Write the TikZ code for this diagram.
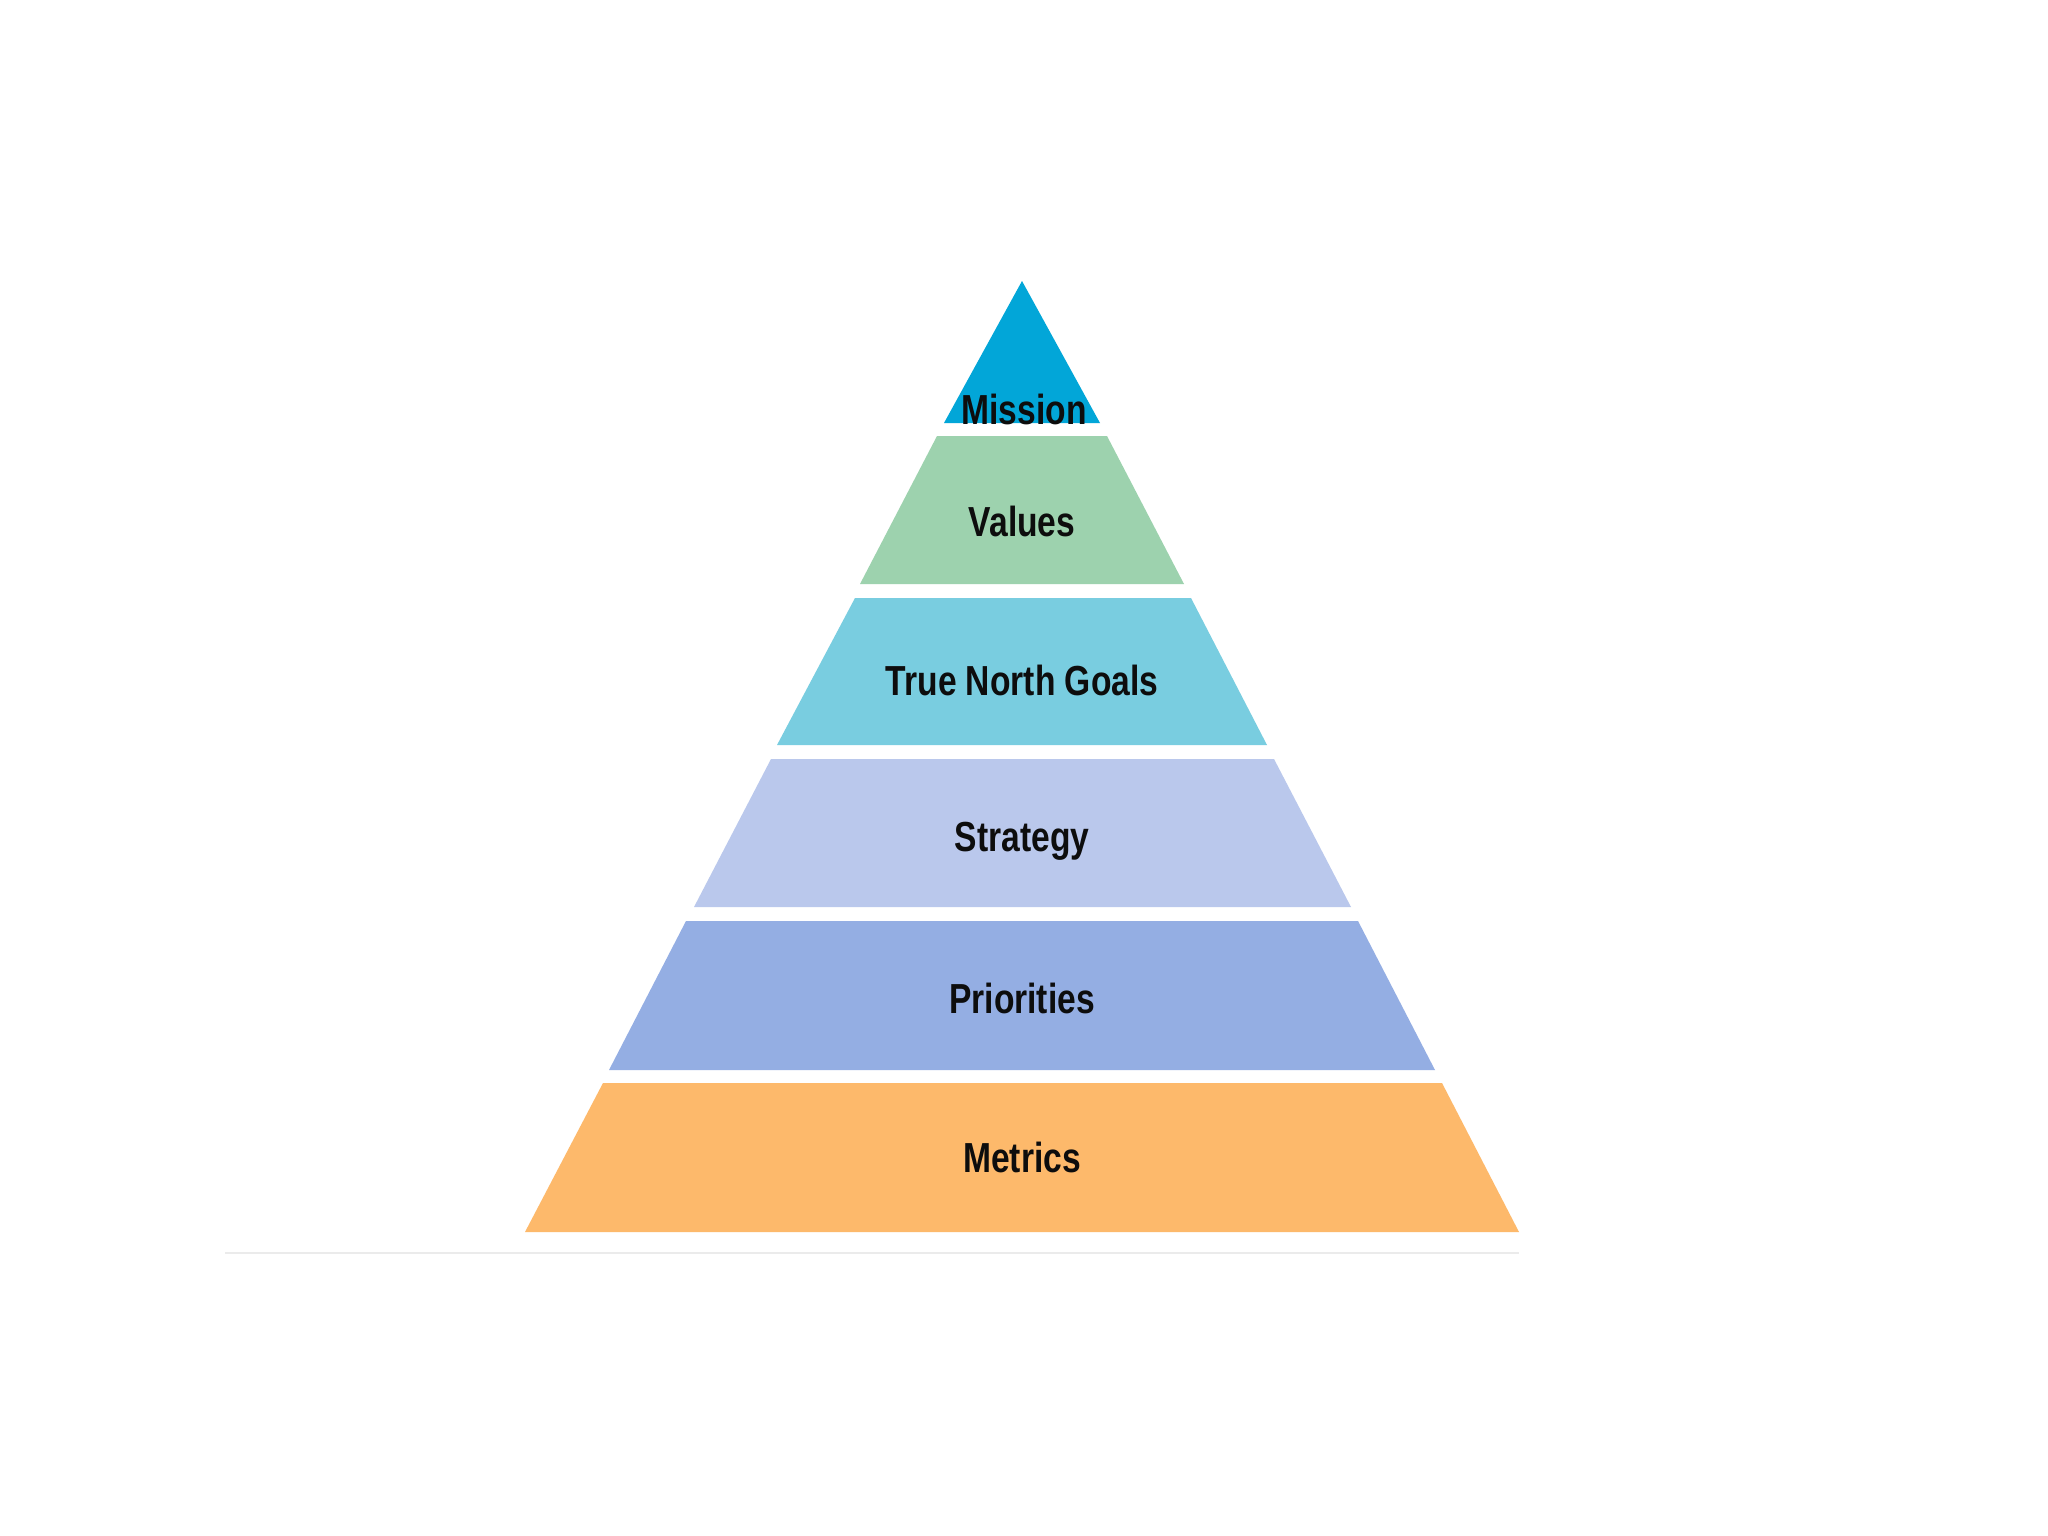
\documentclass[tikz,border=0pt]{standalone}
\usepackage{fontspec}
\setmainfont{Liberation Sans}
\definecolor{cmission}{HTML}{02A6D8}
\definecolor{cvalues}{HTML}{9DD2AE}
\definecolor{ctn}{HTML}{79CDE0}
\definecolor{cstrat}{HTML}{BAC8EC}
\definecolor{cprio}{HTML}{94AEE3}
\definecolor{cmetric}{HTML}{FDB96B}
\definecolor{cbase}{HTML}{EBEBEB}
\tikzset{
  layer/.style={fill=#1, draw=none},
  lbl/.style={inner sep=0pt, text=black!95, font=\fontsize{42}{44}\selectfont\bfseries, xscale=0.8},
}
\begin{document}
\begin{tikzpicture}[x=1pt,y=-1pt]
\useasboundingbox[fill=white] (0,0) rectangle (2048,1536);
% layers
\fill[layer=cmission] (1022,281) -- (1100,423) -- (944,423) -- cycle;
\fill[layer=cvalues] (937,436) -- (1107,436) -- (1184,584) -- (860,584) -- cycle;
\fill[layer=ctn] (855,598) -- (1191,598) -- (1267,745) -- (777,745) -- cycle;
\fill[layer=cstrat] (771,759) -- (1274,759) -- (1351,907) -- (694,907) -- cycle;
\fill[layer=cprio] (686,921) -- (1358,921) -- (1435,1070) -- (609,1070) -- cycle;
\fill[layer=cmetric] (603,1083) -- (1442,1083) -- (1519,1232) -- (525,1232) -- cycle;
% base line
\coordinate (bl) at (225,1253);
\coordinate (br) at (1519,1253);
\draw[cbase, line width=2pt] (bl) -- (br);
% labels
\node[lbl] (mission) at (1024,409) {Mission};
\node[lbl] (values) at (1022,521) {Values};
\node[lbl] (tn) at (1022,680) {True North Goals};
\node[lbl, anchor=base] (strategy) at (1022,851) {Strategy};
\node[lbl] (prio) at (1022,998) {Priorities};
\node[lbl] (metrics) at (1022,1157) {Metrics};
\end{tikzpicture}
\end{document}
